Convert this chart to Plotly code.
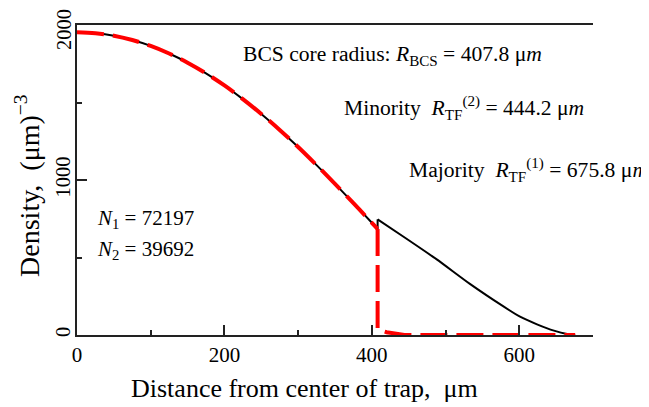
import plotly.graph_objects as go

# Core region (BCS): both species share the same density
core_r = [0, 25, 50, 75, 100, 125, 150, 175, 200, 225, 250, 275, 300, 325, 350, 375, 400, 407.8]
core_n = [1953, 1947, 1931, 1903, 1865, 1816, 1757, 1688, 1610, 1522, 1426, 1323, 1213, 1096, 975, 851, 724, 684]

# Majority outside core (normal phase)
maj_r = [407.8, 443, 488, 533, 579, 601, 624, 647, 665, 675.8]
maj_n = [746, 634, 488, 330, 183, 118, 69, 28, 6, 0]

# Minority outside core
min_r = [407.8, 407.8, 420, 435, 444.2, 500, 600, 675.8]
min_n = [684, 35, 18, 5, 0, 0, 0, 0]

x_ticks = [0, 200, 400, 600]
y_ticks = [0, 1000, 2000]
y_ticktext = ["0", "1000", ""]   # top label drawn separately so it is not clipped
y_top_label = "2000"

FONT = "Liberation Serif"
RED_DASH = "27px,9px"

fig = go.Figure()
fig.add_trace(go.Scatter(x=core_r, y=core_n, mode="lines", line_shape="spline",
                         line=dict(color="black", width=2), showlegend=False))
fig.add_trace(go.Scatter(x=[core_r[-1], maj_r[0]], y=[core_n[-1], maj_n[0]], mode="lines",
                         line=dict(color="black", width=2), showlegend=False))
fig.add_trace(go.Scatter(x=maj_r, y=maj_n, mode="lines", line_shape="spline",
                         line=dict(color="black", width=2, smoothing=0.6), showlegend=False))
fig.add_trace(go.Scatter(x=core_r, y=core_n, mode="lines", line_shape="spline",
                         line=dict(color="#ff0000", width=4, dash=RED_DASH), showlegend=False))
fig.add_trace(go.Scatter(x=min_r, y=min_n, mode="lines",
                         line=dict(color="#ff0000", width=4, dash=RED_DASH), showlegend=False))

anns = [
    dict(x=222, y=1806, size=21.6, text="BCS core radius: <i>R</i><sub>BCS</sub> = 407.8 μ<i>m</i>"),
    dict(x=359, y=1465, size=21.6, text="Minority  <i>R</i><sub>TF</sub><sup>(2)</sup> = 444.2 μ<i>m</i>"),
    dict(x=447, y=1065, size=21.6, text="Majority  <i>R</i><sub>TF</sub><sup>(1)</sup> = 675.8 μ<i>m</i>"),
    dict(x=24, y=748, size=21, text="<i>N</i><sub>1</sub> = 72197"),
    dict(x=24, y=548, size=21, text="<i>N</i><sub>2</sub> = 39692"),
]
for a in anns:
    fig.add_annotation(xref="x", yref="y", xanchor="left", yanchor="middle", x=a["x"], y=a["y"],
                       text=a["text"], showarrow=False,
                       font=dict(family=FONT, size=a["size"], color="black"))

fig.add_annotation(xref="paper", yref="paper", x=-0.0252, y=0.987, xanchor="center", yanchor="middle",
                   text=y_top_label, textangle=-90, showarrow=False,
                   font=dict(family=FONT, size=20.5, color="black"))

fig.add_annotation(xref="paper", yref="paper", x=0.44, y=-0.171, xanchor="center", yanchor="middle",
                   text="Distance from center of trap,  μm", showarrow=False,
                   font=dict(family=FONT, size=26, color="black"))
fig.add_annotation(xref="paper", yref="paper", x=-0.095, y=0.484, xanchor="center", yanchor="middle",
                   text="Density,  (μm)<sup>−3</sup>", textangle=-90, showarrow=False,
                   font=dict(family=FONT, size=28, color="black"))

axis_common = dict(showgrid=False, zeroline=False, showline=True, linecolor="#222", linewidth=1.5,
                   ticks="inside", ticklen=10, tickwidth=1.5, tickcolor="#222", automargin=False,
                   ticklabeloverflow="allow")
fig.update_xaxes(range=[0, 700], tickvals=x_ticks, ticktext=[str(v) for v in x_ticks], mirror=True,
                 tickfont=dict(family=FONT, size=21, color="black"),
                 minor=dict(ticks="inside", ticklen=5, dtick=100, tick0=0, tickwidth=1.5, tickcolor="#222"),
                 **axis_common)
fig.update_yaxes(range=[0, 2000], tickvals=y_ticks, ticktext=y_ticktext, tickangle=-90,
                 ticklabelstandoff=-3,
                 tickfont=dict(family=FONT, size=20.5, color="black"),
                 minor=dict(ticks="inside", ticklen=5, dtick=500, tick0=0, tickwidth=1.5, tickcolor="#222"),
                 **axis_common)

# the page adds an 8px body margin, so the figure is 8px smaller and shifted accordingly
fig.update_layout(width=641, height=399, margin=dict(l=69, r=56, t=17, b=72),
                  paper_bgcolor="white", plot_bgcolor="white", showlegend=False,
                  font=dict(family=FONT))
fig.write_html("out.html")
